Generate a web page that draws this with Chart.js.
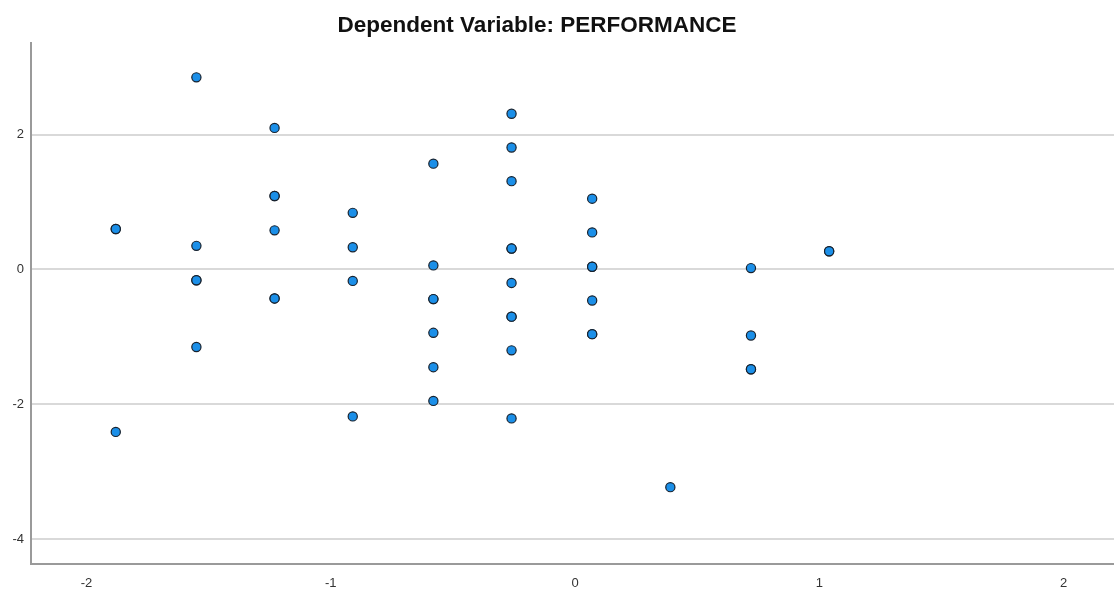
<!DOCTYPE html>
<html>
<head>
<meta charset="utf-8">
<script src="https://cdn.jsdelivr.net/npm/chart.js@4"></script>
<style>
  html, body { margin: 0; padding: 0; background: #fff; }
  #wrap { width: 1114px; height: 590px; }
</style>
</head>
<body>
<div id="wrap"><canvas id="myChart" width="1114" height="590"></canvas></div>
<script>
const chartTitle = 'Dependent Variable: PERFORMANCE';

// regression standardized predicted value (x) vs residual (y)
const predicted = [
  -1.88, -1.88, -1.88,
  -1.55, -1.55, -1.55, -1.55, -1.55,
  -1.23, -1.23, -1.23, -1.23, -1.23, -1.23,
  -0.91, -0.91, -0.91, -0.91,
  -0.58, -0.58, -0.58, -0.58, -0.58, -0.58, -0.58,
  -0.26, -0.26, -0.26, -0.26, -0.26, -0.26, -0.26, -0.26, -0.26, -0.26,
  0.07, 0.07, 0.07, 0.07, 0.07, 0.07, 0.07,
  0.39,
  0.72, 0.72, 0.72, 0.72,
  1.04, 1.04
];
const residual = [
  0.60, 0.60, -2.41,
  2.85, 0.35, -0.16, -0.16, -1.15,
  2.10, 1.09, 1.09, 0.58, -0.43, -0.43,
  0.84, 0.33, -0.17, -2.18,
  1.57, 0.06, -0.44, -0.44, -0.94, -1.45, -1.95,
  2.31, 1.81, 1.31, 0.31, 0.31, -0.20, -0.70, -0.70, -1.20, -2.21,
  1.05, 0.55, 0.04, 0.04, -0.46, -0.96, -0.96,
  -3.23,
  0.02, -0.98, -1.48, -1.48,
  0.27, 0.27
];
const xTicks = [-2, -1, 0, 1, 2];
const yTicks = [-4, -2, 0, 2];

const points = predicted.map((x, i) => ({ x: x, y: residual[i] }));

const titlePlugin = {
  id: 'spssTitle',
  afterDraw(chart) {
    const c = chart.ctx;
    c.save();
    c.font = 'bold 22.5px "Liberation Sans", Arial, sans-serif';
    c.fillStyle = '#111';
    c.textAlign = 'center';
    c.textBaseline = 'middle';
    c.fillText(chartTitle, 537, 26);
    c.restore();
  }
};

const tickFont = { family: '"Liberation Sans", Arial, sans-serif', size: 13 };

const ctx = document.getElementById('myChart').getContext('2d');

const myChart = new Chart(ctx, {
  type: 'scatter',
  data: {
    datasets: [{
      label: 'Residual',
      data: points,
      backgroundColor: '#1b8fe8',
      borderColor: '#18222e',
      borderWidth: 1.2,
      pointRadius: 4.6,
      pointHoverRadius: 4.6
    }]
  },
  options: {
    responsive: false,
    animation: false,
    layout: { autoPadding: false, padding: { top: 43, right: 0, left: 0, bottom: 0 } },
    plugins: {
      legend: { display: false },
      title: { display: false },
      tooltip: { enabled: false }
    },
    scales: {
      x: {
        type: 'linear',
        min: -2.227,
        max: 2.206,
        afterBuildTicks: (scale) => { scale.ticks = xTicks.map(v => ({ value: v })); },
        afterFit: (scale) => {
          scale.height = 26;
          scale.paddingLeft = 0;
          scale.paddingRight = 0;
        },
        grid: { display: false, drawTicks: false },
        border: { display: true, color: '#9a9a9a', width: 2 },
        ticks: { padding: 12, color: '#333', font: tickFont }
      },
      y: {
        type: 'linear',
        min: -4.37,
        max: 3.36,
        afterBuildTicks: (scale) => { scale.ticks = yTicks.map(v => ({ value: v })); },
        afterFit: (scale) => {
          scale.width = 31;
          scale.paddingTop = 0;
          scale.paddingBottom = 0;
        },
        grid: { color: '#d9d9d9', lineWidth: 2, drawTicks: false },
        border: { display: true, color: '#9a9a9a', width: 2 },
        ticks: { padding: 7, color: '#333', font: tickFont }
      }
    }
  },
  plugins: [titlePlugin]
});
</script>
</body>
</html>
